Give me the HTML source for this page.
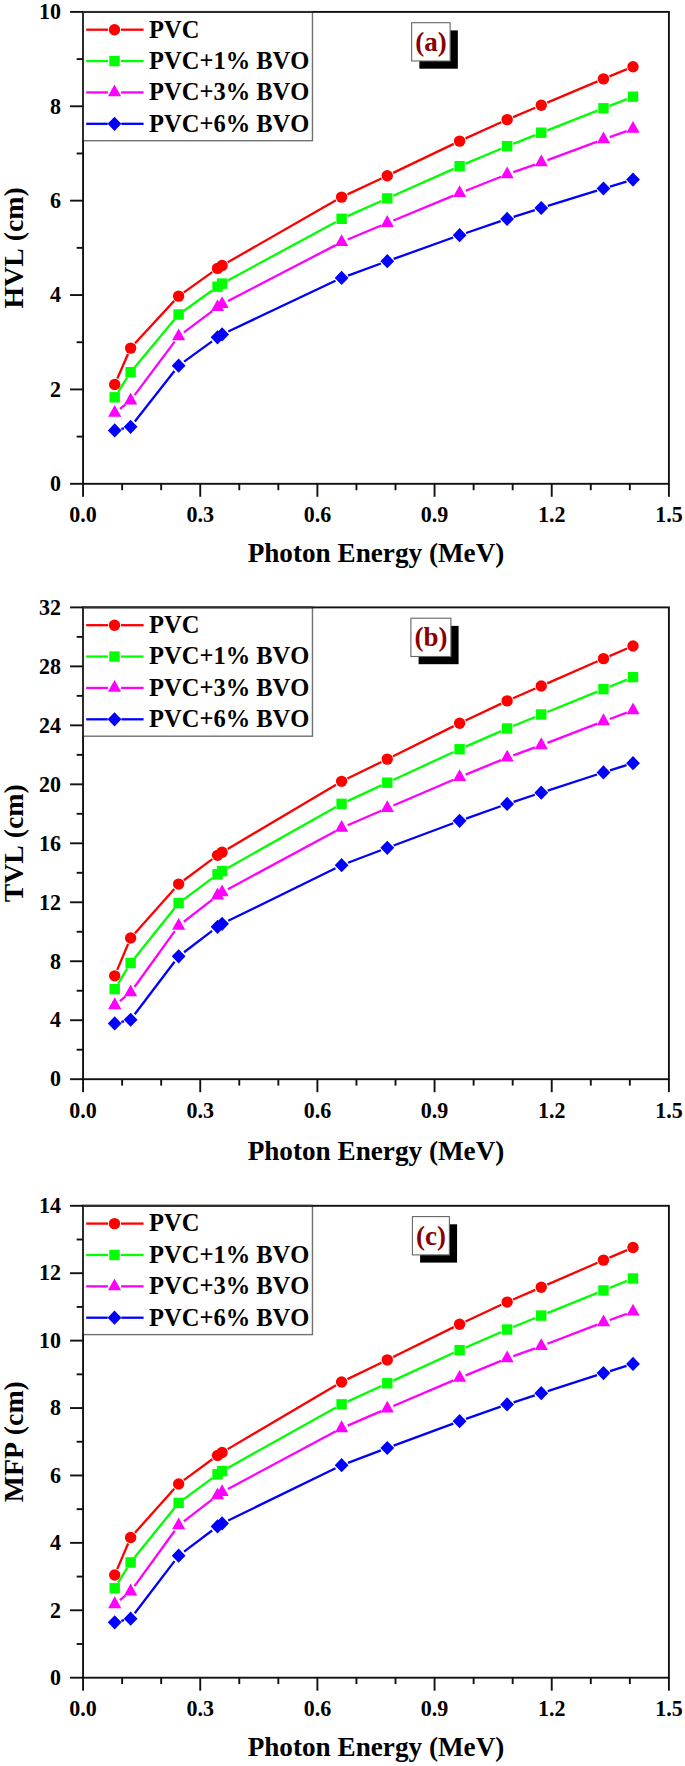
<!DOCTYPE html>
<html><head><meta charset="utf-8"><style>
html,body{margin:0;padding:0;background:#fff;}
body{width:685px;height:1766px;overflow:hidden;font-family:"Liberation Serif",serif;}
svg{display:block;}
text{font-kerning:none;font-feature-settings:"kern" 0;}
</style></head><body>
<svg width="685" height="1766" viewBox="0 0 685 1766">
<g stroke="#ff0000" stroke-width="2.3" stroke-linecap="butt"><line x1="117.30" y1="378.55" x2="128.02" y2="354.05"/><line x1="135.04" y1="343.32" x2="174.22" y2="300.88"/><line x1="183.92" y1="292.33" x2="212.24" y2="272.17"/><line x1="227.74" y1="262.27" x2="335.97" y2="200.33"/><line x1="347.50" y1="194.34" x2="381.38" y2="178.46"/><line x1="393.13" y1="172.90" x2="453.74" y2="143.90"/><line x1="465.52" y1="138.42" x2="501.21" y2="122.28"/><line x1="513.12" y1="117.07" x2="535.28" y2="107.73"/><line x1="547.25" y1="102.67" x2="597.49" y2="81.43"/><line x1="609.49" y1="76.42" x2="627.00" y2="69.18"/></g>
<circle cx="114.70" cy="384.50" r="5.70" fill="#ff0000"/><circle cx="130.63" cy="348.10" r="5.70" fill="#ff0000"/><circle cx="178.63" cy="296.10" r="5.70" fill="#ff0000"/><circle cx="217.53" cy="268.40" r="5.70" fill="#ff0000"/><circle cx="222.10" cy="265.50" r="5.70" fill="#ff0000"/><circle cx="341.61" cy="197.10" r="5.70" fill="#ff0000"/><circle cx="387.27" cy="175.70" r="5.70" fill="#ff0000"/><circle cx="459.60" cy="141.10" r="5.70" fill="#ff0000"/><circle cx="507.13" cy="119.60" r="5.70" fill="#ff0000"/><circle cx="541.26" cy="105.20" r="5.70" fill="#ff0000"/><circle cx="603.48" cy="78.90" r="5.70" fill="#ff0000"/><circle cx="633.01" cy="66.70" r="5.70" fill="#ff0000"/>
<g stroke="#00ff00" stroke-width="2.3" stroke-linecap="butt"><line x1="118.18" y1="391.81" x2="127.15" y2="377.69"/><line x1="134.79" y1="367.20" x2="174.47" y2="319.50"/><line x1="183.92" y1="310.72" x2="212.24" y2="290.48"/><line x1="227.81" y1="280.50" x2="335.90" y2="221.90"/><line x1="347.55" y1="216.15" x2="381.33" y2="201.05"/><line x1="393.21" y1="195.76" x2="453.66" y2="168.84"/><line x1="465.59" y1="163.68" x2="501.14" y2="148.72"/><line x1="513.17" y1="143.81" x2="535.22" y2="135.09"/><line x1="547.32" y1="130.33" x2="597.43" y2="110.67"/><line x1="609.53" y1="105.92" x2="626.96" y2="99.08"/></g>
<rect x="109.50" y="392.10" width="10.40" height="10.40" fill="#00ff00"/><rect x="125.43" y="367.00" width="10.40" height="10.40" fill="#00ff00"/><rect x="173.43" y="309.30" width="10.40" height="10.40" fill="#00ff00"/><rect x="212.33" y="281.50" width="10.40" height="10.40" fill="#00ff00"/><rect x="216.90" y="278.40" width="10.40" height="10.40" fill="#00ff00"/><rect x="336.41" y="213.60" width="10.40" height="10.40" fill="#00ff00"/><rect x="382.07" y="193.20" width="10.40" height="10.40" fill="#00ff00"/><rect x="454.40" y="161.00" width="10.40" height="10.40" fill="#00ff00"/><rect x="501.93" y="141.00" width="10.40" height="10.40" fill="#00ff00"/><rect x="536.06" y="127.50" width="10.40" height="10.40" fill="#00ff00"/><rect x="598.28" y="103.10" width="10.40" height="10.40" fill="#00ff00"/><rect x="627.81" y="91.50" width="10.40" height="10.40" fill="#00ff00"/>
<g stroke="#ff00ff" stroke-width="2.3" stroke-linecap="butt"><line x1="119.90" y1="408.81" x2="125.42" y2="404.52"/><line x1="134.59" y1="395.18" x2="174.67" y2="341.65"/><line x1="183.91" y1="332.40" x2="212.25" y2="311.13"/><line x1="227.96" y1="301.03" x2="335.75" y2="245.11"/><line x1="347.70" y1="239.52" x2="381.18" y2="225.51"/><line x1="393.37" y1="220.45" x2="453.50" y2="195.68"/><line x1="465.73" y1="190.73" x2="501.00" y2="176.71"/><line x1="513.36" y1="172.09" x2="535.03" y2="164.54"/><line x1="547.45" y1="160.07" x2="597.29" y2="141.56"/><line x1="609.71" y1="137.07" x2="626.78" y2="131.06"/></g>
<polygon points="114.70,405.00 121.30,416.80 108.10,416.80" fill="#ff00ff"/><polygon points="130.63,392.60 137.23,404.40 124.03,404.40" fill="#ff00ff"/><polygon points="178.63,328.50 185.23,340.30 172.03,340.30" fill="#ff00ff"/><polygon points="217.53,299.30 224.13,311.10 210.93,311.10" fill="#ff00ff"/><polygon points="222.10,296.20 228.70,308.00 215.50,308.00" fill="#ff00ff"/><polygon points="341.61,234.20 348.21,246.00 335.01,246.00" fill="#ff00ff"/><polygon points="387.27,215.10 393.87,226.90 380.67,226.90" fill="#ff00ff"/><polygon points="459.60,185.30 466.20,197.10 453.00,197.10" fill="#ff00ff"/><polygon points="507.13,166.40 513.73,178.20 500.53,178.20" fill="#ff00ff"/><polygon points="541.26,154.50 547.86,166.30 534.66,166.30" fill="#ff00ff"/><polygon points="603.48,131.40 610.08,143.20 596.88,143.20" fill="#ff00ff"/><polygon points="633.01,121.00 639.61,132.80 626.41,132.80" fill="#ff00ff"/>
<g stroke="#0000ff" stroke-width="2.3" stroke-linecap="butt"><line x1="121.33" y1="428.90" x2="124.00" y2="428.30"/><line x1="134.83" y1="421.45" x2="174.43" y2="371.05"/><line x1="184.12" y1="361.69" x2="212.04" y2="341.31"/><line x1="228.25" y1="331.49" x2="335.46" y2="280.81"/><line x1="348.00" y1="275.56" x2="380.88" y2="263.54"/><line x1="393.67" y1="258.90" x2="453.20" y2="237.50"/><line x1="466.03" y1="232.99" x2="500.70" y2="221.11"/><line x1="513.61" y1="216.83" x2="534.79" y2="210.07"/><line x1="547.75" y1="205.97" x2="596.99" y2="190.53"/><line x1="609.99" y1="186.54" x2="626.50" y2="181.56"/></g>
<polygon points="114.70,423.30 121.60,430.40 114.70,437.50 107.80,430.40" fill="#0000ff"/><polygon points="130.63,419.70 137.53,426.80 130.63,433.90 123.73,426.80" fill="#0000ff"/><polygon points="178.63,358.60 185.53,365.70 178.63,372.80 171.73,365.70" fill="#0000ff"/><polygon points="217.53,330.20 224.43,337.30 217.53,344.40 210.63,337.30" fill="#0000ff"/><polygon points="222.10,327.30 229.00,334.40 222.10,341.50 215.20,334.40" fill="#0000ff"/><polygon points="341.61,270.80 348.51,277.90 341.61,285.00 334.71,277.90" fill="#0000ff"/><polygon points="387.27,254.10 394.17,261.20 387.27,268.30 380.37,261.20" fill="#0000ff"/><polygon points="459.60,228.10 466.50,235.20 459.60,242.30 452.70,235.20" fill="#0000ff"/><polygon points="507.13,211.80 514.03,218.90 507.13,226.00 500.23,218.90" fill="#0000ff"/><polygon points="541.26,200.90 548.16,208.00 541.26,215.10 534.36,208.00" fill="#0000ff"/><polygon points="603.48,181.40 610.38,188.50 603.48,195.60 596.58,188.50" fill="#0000ff"/><polygon points="633.01,172.50 639.91,179.60 633.01,186.70 626.11,179.60" fill="#0000ff"/>
<rect x="83.06" y="11.90" width="229.4" height="128.8" fill="#fff" stroke="#707070" stroke-width="1.4"/>
<g stroke="#ff0000" stroke-width="2.3"><line x1="86.2" y1="29.70" x2="108.00" y2="29.70"/><line x1="121.00" y1="29.70" x2="143.6" y2="29.70"/></g>
<circle cx="114.50" cy="29.70" r="5.70" fill="#ff0000"/>
<text x="149.1" y="37.55" font-size="24.5" font-family="Liberation Serif" font-weight="bold">PVC</text>
<g stroke="#00ff00" stroke-width="2.3"><line x1="86.2" y1="61.07" x2="108.00" y2="61.07"/><line x1="121.00" y1="61.07" x2="143.6" y2="61.07"/></g>
<rect x="109.30" y="55.87" width="10.40" height="10.40" fill="#00ff00"/>
<text x="149.1" y="68.92" font-size="24.5" font-family="Liberation Serif" font-weight="bold">PVC+1% BVO</text>
<g stroke="#ff00ff" stroke-width="2.3"><line x1="86.2" y1="92.44" x2="107.90" y2="92.44"/><line x1="121.10" y1="92.44" x2="143.6" y2="92.44"/></g>
<polygon points="114.50,84.57 121.10,96.37 107.90,96.37" fill="#ff00ff"/>
<text x="149.1" y="100.29" font-size="24.5" font-family="Liberation Serif" font-weight="bold">PVC+3% BVO</text>
<g stroke="#0000ff" stroke-width="2.3"><line x1="86.2" y1="123.81" x2="107.70" y2="123.81"/><line x1="121.30" y1="123.81" x2="143.6" y2="123.81"/></g>
<polygon points="114.50,116.71 121.40,123.81 114.50,130.91 107.60,123.81" fill="#0000ff"/>
<text x="149.1" y="131.66" font-size="24.5" font-family="Liberation Serif" font-weight="bold">PVC+6% BVO</text>
<rect x="83.06" y="11.9" width="585.84" height="471.90" fill="none" stroke="#111" stroke-width="1.9"/>
<path d="M83.06 140.70V11.90H312.46" fill="none" stroke="#2e2e2e" stroke-width="1.9"/>
<g stroke="#111" stroke-width="1.9"><line x1="83.06" y1="483.80" x2="83.06" y2="496.80"/><line x1="122.12" y1="483.80" x2="122.12" y2="490.20"/><line x1="161.17" y1="483.80" x2="161.17" y2="490.20"/><line x1="200.23" y1="483.80" x2="200.23" y2="496.80"/><line x1="239.28" y1="483.80" x2="239.28" y2="490.20"/><line x1="278.34" y1="483.80" x2="278.34" y2="490.20"/><line x1="317.40" y1="483.80" x2="317.40" y2="496.80"/><line x1="356.45" y1="483.80" x2="356.45" y2="490.20"/><line x1="395.51" y1="483.80" x2="395.51" y2="490.20"/><line x1="434.56" y1="483.80" x2="434.56" y2="496.80"/><line x1="473.62" y1="483.80" x2="473.62" y2="490.20"/><line x1="512.68" y1="483.80" x2="512.68" y2="490.20"/><line x1="551.73" y1="483.80" x2="551.73" y2="496.80"/><line x1="590.79" y1="483.80" x2="590.79" y2="490.20"/><line x1="629.84" y1="483.80" x2="629.84" y2="490.20"/><line x1="668.90" y1="483.80" x2="668.90" y2="496.80"/><line x1="70.06" y1="483.80" x2="83.06" y2="483.80"/><line x1="76.66" y1="436.61" x2="83.06" y2="436.61"/><line x1="70.06" y1="389.42" x2="83.06" y2="389.42"/><line x1="76.66" y1="342.23" x2="83.06" y2="342.23"/><line x1="70.06" y1="295.04" x2="83.06" y2="295.04"/><line x1="76.66" y1="247.85" x2="83.06" y2="247.85"/><line x1="70.06" y1="200.66" x2="83.06" y2="200.66"/><line x1="76.66" y1="153.47" x2="83.06" y2="153.47"/><line x1="70.06" y1="106.28" x2="83.06" y2="106.28"/><line x1="76.66" y1="59.09" x2="83.06" y2="59.09"/><line x1="70.06" y1="11.90" x2="83.06" y2="11.90"/></g>
<g font-size="22" font-family="Liberation Serif" font-weight="bold"><text transform="translate(83.06 522.40) scale(1 1.06)" text-anchor="middle">0.0</text><text transform="translate(200.23 522.40) scale(1 1.06)" text-anchor="middle">0.3</text><text transform="translate(317.40 522.40) scale(1 1.06)" text-anchor="middle">0.6</text><text transform="translate(434.56 522.40) scale(1 1.06)" text-anchor="middle">0.9</text><text transform="translate(551.73 522.40) scale(1 1.06)" text-anchor="middle">1.2</text><text transform="translate(668.90 522.40) scale(1 1.06)" text-anchor="middle">1.5</text><text transform="translate(60.9 491.05) scale(1 1.06)" text-anchor="end">0</text><text transform="translate(60.9 396.67) scale(1 1.06)" text-anchor="end">2</text><text transform="translate(60.9 302.29) scale(1 1.06)" text-anchor="end">4</text><text transform="translate(60.9 207.91) scale(1 1.06)" text-anchor="end">6</text><text transform="translate(60.9 113.53) scale(1 1.06)" text-anchor="end">8</text><text transform="translate(60.9 19.15) scale(1 1.06)" text-anchor="end">10</text></g>
<text x="376" y="562.20" text-anchor="middle" font-size="27.2" font-family="Liberation Serif" font-weight="bold">Photon Energy (MeV)</text>
<text transform="translate(22.6 247.85) rotate(-90)" x="0" y="0" text-anchor="middle" font-size="27.8" font-family="Liberation Serif" font-weight="bold">HVL (cm)</text>
<rect x="419.36" y="30.40" width="38.48" height="38.3" fill="#000"/>
<rect x="411.66" y="22.70" width="38.48" height="38.3" fill="#fff" stroke="#666" stroke-width="1.1"/>
<text x="430.9" y="50.70" text-anchor="middle" font-size="27" fill="#880000" font-family="Liberation Serif" font-weight="bold">(a)</text>
<g stroke="#ff0000" stroke-width="2.3" stroke-linecap="butt"><line x1="117.22" y1="969.84" x2="128.10" y2="944.04"/><line x1="134.95" y1="933.19" x2="174.31" y2="888.94"/><line x1="183.86" y1="880.21" x2="212.30" y2="859.19"/><line x1="227.69" y1="849.00" x2="336.02" y2="784.65"/><line x1="347.46" y1="778.48" x2="381.42" y2="761.96"/><line x1="393.09" y1="756.23" x2="453.78" y2="726.10"/><line x1="465.48" y1="720.44" x2="501.25" y2="703.65"/><line x1="513.08" y1="698.28" x2="535.31" y2="688.55"/><line x1="547.22" y1="683.33" x2="597.53" y2="661.26"/><line x1="609.46" y1="656.09" x2="627.03" y2="648.55"/></g>
<circle cx="114.70" cy="975.83" r="5.70" fill="#ff0000"/><circle cx="130.63" cy="938.05" r="5.70" fill="#ff0000"/><circle cx="178.63" cy="884.08" r="5.70" fill="#ff0000"/><circle cx="217.53" cy="855.33" r="5.70" fill="#ff0000"/><circle cx="222.10" cy="852.32" r="5.70" fill="#ff0000"/><circle cx="341.61" cy="781.33" r="5.70" fill="#ff0000"/><circle cx="387.27" cy="759.12" r="5.70" fill="#ff0000"/><circle cx="459.60" cy="723.21" r="5.70" fill="#ff0000"/><circle cx="507.13" cy="700.89" r="5.70" fill="#ff0000"/><circle cx="541.26" cy="685.95" r="5.70" fill="#ff0000"/><circle cx="603.48" cy="658.65" r="5.70" fill="#ff0000"/><circle cx="633.01" cy="645.99" r="5.70" fill="#ff0000"/>
<g stroke="#00ff00" stroke-width="2.3" stroke-linecap="butt"><line x1="118.09" y1="983.57" x2="127.24" y2="968.61"/><line x1="134.70" y1="957.99" x2="174.56" y2="908.25"/><line x1="183.85" y1="899.30" x2="212.31" y2="878.19"/><line x1="227.76" y1="867.92" x2="335.95" y2="807.04"/><line x1="347.51" y1="801.12" x2="381.37" y2="785.41"/><line x1="393.17" y1="779.95" x2="453.70" y2="751.98"/><line x1="465.56" y1="746.66" x2="501.17" y2="731.10"/><line x1="513.14" y1="726.03" x2="535.25" y2="716.96"/><line x1="547.29" y1="712.04" x2="597.46" y2="691.61"/><line x1="609.50" y1="686.71" x2="626.99" y2="679.58"/></g>
<rect x="109.50" y="983.91" width="10.40" height="10.40" fill="#00ff00"/><rect x="125.43" y="957.86" width="10.40" height="10.40" fill="#00ff00"/><rect x="173.43" y="897.98" width="10.40" height="10.40" fill="#00ff00"/><rect x="212.33" y="869.12" width="10.40" height="10.40" fill="#00ff00"/><rect x="216.90" y="865.90" width="10.40" height="10.40" fill="#00ff00"/><rect x="336.41" y="798.65" width="10.40" height="10.40" fill="#00ff00"/><rect x="382.07" y="777.48" width="10.40" height="10.40" fill="#00ff00"/><rect x="454.40" y="744.06" width="10.40" height="10.40" fill="#00ff00"/><rect x="501.93" y="723.30" width="10.40" height="10.40" fill="#00ff00"/><rect x="536.06" y="709.29" width="10.40" height="10.40" fill="#00ff00"/><rect x="598.28" y="683.96" width="10.40" height="10.40" fill="#00ff00"/><rect x="627.81" y="671.92" width="10.40" height="10.40" fill="#00ff00"/>
<g stroke="#ff00ff" stroke-width="2.3" stroke-linecap="butt"><line x1="119.83" y1="1001.05" x2="125.50" y2="996.47"/><line x1="134.49" y1="986.97" x2="174.77" y2="931.15"/><line x1="183.84" y1="921.74" x2="212.32" y2="899.55"/><line x1="227.91" y1="889.14" x2="335.80" y2="831.05"/><line x1="347.66" y1="825.29" x2="381.21" y2="810.73"/><line x1="393.34" y1="805.50" x2="453.53" y2="779.77"/><line x1="465.70" y1="774.65" x2="501.03" y2="760.07"/><line x1="513.34" y1="755.31" x2="535.06" y2="747.45"/><line x1="547.42" y1="742.83" x2="597.32" y2="723.60"/><line x1="609.68" y1="718.96" x2="626.81" y2="712.70"/></g>
<polygon points="114.70,997.33 121.30,1009.13 108.10,1009.13" fill="#ff00ff"/><polygon points="130.63,984.46 137.23,996.26 124.03,996.26" fill="#ff00ff"/><polygon points="178.63,917.93 185.23,929.73 172.03,929.73" fill="#ff00ff"/><polygon points="217.53,887.62 224.13,899.42 210.93,899.42" fill="#ff00ff"/><polygon points="222.10,884.41 228.70,896.21 215.50,896.21" fill="#ff00ff"/><polygon points="341.61,820.06 348.21,831.86 335.01,831.86" fill="#ff00ff"/><polygon points="387.27,800.23 393.87,812.03 380.67,812.03" fill="#ff00ff"/><polygon points="459.60,769.30 466.20,781.10 453.00,781.10" fill="#ff00ff"/><polygon points="507.13,749.69 513.73,761.49 500.53,761.49" fill="#ff00ff"/><polygon points="541.26,737.34 547.86,749.14 534.66,749.14" fill="#ff00ff"/><polygon points="603.48,713.36 610.08,725.16 596.88,725.16" fill="#ff00ff"/><polygon points="633.01,702.57 639.61,714.37 626.41,714.37" fill="#ff00ff"/>
<g stroke="#0000ff" stroke-width="2.3" stroke-linecap="butt"><line x1="121.32" y1="1021.91" x2="124.01" y2="1021.28"/><line x1="134.73" y1="1014.31" x2="174.53" y2="961.74"/><line x1="184.05" y1="952.21" x2="212.11" y2="930.95"/><line x1="228.20" y1="920.83" x2="335.51" y2="868.18"/><line x1="347.97" y1="862.78" x2="380.91" y2="850.27"/><line x1="393.64" y1="845.48" x2="453.23" y2="823.25"/><line x1="466.01" y1="818.59" x2="500.72" y2="806.23"/><line x1="513.58" y1="801.81" x2="534.81" y2="794.78"/><line x1="547.73" y1="790.54" x2="597.01" y2="774.51"/><line x1="609.97" y1="770.37" x2="626.52" y2="765.20"/></g>
<polygon points="114.70,1016.37 121.60,1023.47 114.70,1030.57 107.80,1023.47" fill="#0000ff"/><polygon points="130.63,1012.63 137.53,1019.73 130.63,1026.83 123.73,1019.73" fill="#0000ff"/><polygon points="178.63,949.21 185.53,956.31 178.63,963.41 171.73,956.31" fill="#0000ff"/><polygon points="217.53,919.74 224.43,926.84 217.53,933.94 210.63,926.84" fill="#0000ff"/><polygon points="222.10,916.73 229.00,923.83 222.10,930.93 215.20,923.83" fill="#0000ff"/><polygon points="341.61,858.09 348.51,865.19 341.61,872.29 334.71,865.19" fill="#0000ff"/><polygon points="387.27,840.76 394.17,847.86 387.27,854.96 380.37,847.86" fill="#0000ff"/><polygon points="459.60,813.77 466.50,820.87 459.60,827.97 452.70,820.87" fill="#0000ff"/><polygon points="507.13,796.85 514.03,803.95 507.13,811.05 500.23,803.95" fill="#0000ff"/><polygon points="541.26,785.54 548.16,792.64 541.26,799.74 534.36,792.64" fill="#0000ff"/><polygon points="603.48,765.30 610.38,772.40 603.48,779.50 596.58,772.40" fill="#0000ff"/><polygon points="633.01,756.06 639.91,763.16 633.01,770.26 626.11,763.16" fill="#0000ff"/>
<rect x="83.06" y="607.40" width="229.4" height="128.8" fill="#fff" stroke="#707070" stroke-width="1.4"/>
<g stroke="#ff0000" stroke-width="2.3"><line x1="86.2" y1="625.20" x2="108.00" y2="625.20"/><line x1="121.00" y1="625.20" x2="143.6" y2="625.20"/></g>
<circle cx="114.50" cy="625.20" r="5.70" fill="#ff0000"/>
<text x="149.1" y="633.05" font-size="24.5" font-family="Liberation Serif" font-weight="bold">PVC</text>
<g stroke="#00ff00" stroke-width="2.3"><line x1="86.2" y1="656.57" x2="108.00" y2="656.57"/><line x1="121.00" y1="656.57" x2="143.6" y2="656.57"/></g>
<rect x="109.30" y="651.37" width="10.40" height="10.40" fill="#00ff00"/>
<text x="149.1" y="664.42" font-size="24.5" font-family="Liberation Serif" font-weight="bold">PVC+1% BVO</text>
<g stroke="#ff00ff" stroke-width="2.3"><line x1="86.2" y1="687.94" x2="107.90" y2="687.94"/><line x1="121.10" y1="687.94" x2="143.6" y2="687.94"/></g>
<polygon points="114.50,680.07 121.10,691.87 107.90,691.87" fill="#ff00ff"/>
<text x="149.1" y="695.79" font-size="24.5" font-family="Liberation Serif" font-weight="bold">PVC+3% BVO</text>
<g stroke="#0000ff" stroke-width="2.3"><line x1="86.2" y1="719.31" x2="107.70" y2="719.31"/><line x1="121.30" y1="719.31" x2="143.6" y2="719.31"/></g>
<polygon points="114.50,712.21 121.40,719.31 114.50,726.41 107.60,719.31" fill="#0000ff"/>
<text x="149.1" y="727.16" font-size="24.5" font-family="Liberation Serif" font-weight="bold">PVC+6% BVO</text>
<rect x="83.06" y="607.4" width="585.84" height="471.80" fill="none" stroke="#111" stroke-width="1.9"/>
<path d="M83.06 736.20V607.40H312.46" fill="none" stroke="#2e2e2e" stroke-width="1.9"/>
<g stroke="#111" stroke-width="1.9"><line x1="83.06" y1="1079.20" x2="83.06" y2="1092.20"/><line x1="122.12" y1="1079.20" x2="122.12" y2="1085.60"/><line x1="161.17" y1="1079.20" x2="161.17" y2="1085.60"/><line x1="200.23" y1="1079.20" x2="200.23" y2="1092.20"/><line x1="239.28" y1="1079.20" x2="239.28" y2="1085.60"/><line x1="278.34" y1="1079.20" x2="278.34" y2="1085.60"/><line x1="317.40" y1="1079.20" x2="317.40" y2="1092.20"/><line x1="356.45" y1="1079.20" x2="356.45" y2="1085.60"/><line x1="395.51" y1="1079.20" x2="395.51" y2="1085.60"/><line x1="434.56" y1="1079.20" x2="434.56" y2="1092.20"/><line x1="473.62" y1="1079.20" x2="473.62" y2="1085.60"/><line x1="512.68" y1="1079.20" x2="512.68" y2="1085.60"/><line x1="551.73" y1="1079.20" x2="551.73" y2="1092.20"/><line x1="590.79" y1="1079.20" x2="590.79" y2="1085.60"/><line x1="629.84" y1="1079.20" x2="629.84" y2="1085.60"/><line x1="668.90" y1="1079.20" x2="668.90" y2="1092.20"/><line x1="70.06" y1="1079.20" x2="83.06" y2="1079.20"/><line x1="76.66" y1="1049.71" x2="83.06" y2="1049.71"/><line x1="70.06" y1="1020.23" x2="83.06" y2="1020.23"/><line x1="76.66" y1="990.74" x2="83.06" y2="990.74"/><line x1="70.06" y1="961.25" x2="83.06" y2="961.25"/><line x1="76.66" y1="931.76" x2="83.06" y2="931.76"/><line x1="70.06" y1="902.28" x2="83.06" y2="902.28"/><line x1="76.66" y1="872.79" x2="83.06" y2="872.79"/><line x1="70.06" y1="843.30" x2="83.06" y2="843.30"/><line x1="76.66" y1="813.81" x2="83.06" y2="813.81"/><line x1="70.06" y1="784.33" x2="83.06" y2="784.33"/><line x1="76.66" y1="754.84" x2="83.06" y2="754.84"/><line x1="70.06" y1="725.35" x2="83.06" y2="725.35"/><line x1="76.66" y1="695.86" x2="83.06" y2="695.86"/><line x1="70.06" y1="666.38" x2="83.06" y2="666.38"/><line x1="76.66" y1="636.89" x2="83.06" y2="636.89"/><line x1="70.06" y1="607.40" x2="83.06" y2="607.40"/></g>
<g font-size="22" font-family="Liberation Serif" font-weight="bold"><text transform="translate(83.06 1117.80) scale(1 1.06)" text-anchor="middle">0.0</text><text transform="translate(200.23 1117.80) scale(1 1.06)" text-anchor="middle">0.3</text><text transform="translate(317.40 1117.80) scale(1 1.06)" text-anchor="middle">0.6</text><text transform="translate(434.56 1117.80) scale(1 1.06)" text-anchor="middle">0.9</text><text transform="translate(551.73 1117.80) scale(1 1.06)" text-anchor="middle">1.2</text><text transform="translate(668.90 1117.80) scale(1 1.06)" text-anchor="middle">1.5</text><text transform="translate(60.9 1086.45) scale(1 1.06)" text-anchor="end">0</text><text transform="translate(60.9 1027.47) scale(1 1.06)" text-anchor="end">4</text><text transform="translate(60.9 968.50) scale(1 1.06)" text-anchor="end">8</text><text transform="translate(60.9 909.53) scale(1 1.06)" text-anchor="end">12</text><text transform="translate(60.9 850.55) scale(1 1.06)" text-anchor="end">16</text><text transform="translate(60.9 791.58) scale(1 1.06)" text-anchor="end">20</text><text transform="translate(60.9 732.60) scale(1 1.06)" text-anchor="end">24</text><text transform="translate(60.9 673.62) scale(1 1.06)" text-anchor="end">28</text><text transform="translate(60.9 614.65) scale(1 1.06)" text-anchor="end">32</text></g>
<text x="376" y="1159.60" text-anchor="middle" font-size="27.2" font-family="Liberation Serif" font-weight="bold">Photon Energy (MeV)</text>
<text transform="translate(22.6 843.30) rotate(-90)" x="0" y="0" text-anchor="middle" font-size="27.8" font-family="Liberation Serif" font-weight="bold">TVL (cm)</text>
<rect x="418.60" y="625.90" width="39.99" height="38.3" fill="#000"/>
<rect x="410.90" y="618.20" width="39.99" height="38.3" fill="#fff" stroke="#666" stroke-width="1.1"/>
<text x="430.9" y="646.20" text-anchor="middle" font-size="27" fill="#880000" font-family="Liberation Serif" font-weight="bold">(b)</text>
<g stroke="#ff0000" stroke-width="2.3" stroke-linecap="butt"><line x1="117.24" y1="1569.08" x2="128.09" y2="1543.54"/><line x1="134.97" y1="1532.71" x2="174.29" y2="1488.81"/><line x1="183.87" y1="1480.12" x2="212.29" y2="1459.27"/><line x1="227.70" y1="1449.13" x2="336.01" y2="1385.25"/><line x1="347.46" y1="1379.12" x2="381.41" y2="1362.72"/><line x1="393.10" y1="1357.02" x2="453.77" y2="1327.11"/><line x1="465.49" y1="1321.49" x2="501.24" y2="1304.83"/><line x1="513.09" y1="1299.49" x2="535.30" y2="1289.84"/><line x1="547.22" y1="1284.65" x2="597.52" y2="1262.74"/><line x1="609.46" y1="1257.60" x2="627.03" y2="1250.12"/></g>
<circle cx="114.70" cy="1575.06" r="5.70" fill="#ff0000"/><circle cx="130.63" cy="1537.55" r="5.70" fill="#ff0000"/><circle cx="178.63" cy="1483.97" r="5.70" fill="#ff0000"/><circle cx="217.53" cy="1455.42" r="5.70" fill="#ff0000"/><circle cx="222.10" cy="1452.43" r="5.70" fill="#ff0000"/><circle cx="341.61" cy="1381.95" r="5.70" fill="#ff0000"/><circle cx="387.27" cy="1359.89" r="5.70" fill="#ff0000"/><circle cx="459.60" cy="1324.24" r="5.70" fill="#ff0000"/><circle cx="507.13" cy="1302.08" r="5.70" fill="#ff0000"/><circle cx="541.26" cy="1287.24" r="5.70" fill="#ff0000"/><circle cx="603.48" cy="1260.14" r="5.70" fill="#ff0000"/><circle cx="633.01" cy="1247.57" r="5.70" fill="#ff0000"/>
<g stroke="#00ff00" stroke-width="2.3" stroke-linecap="butt"><line x1="118.10" y1="1582.72" x2="127.22" y2="1567.92"/><line x1="134.71" y1="1557.33" x2="174.55" y2="1507.99"/><line x1="183.86" y1="1499.07" x2="212.30" y2="1478.13"/><line x1="227.77" y1="1467.91" x2="335.94" y2="1407.48"/><line x1="347.51" y1="1401.59" x2="381.36" y2="1386.01"/><line x1="393.18" y1="1380.58" x2="453.69" y2="1352.82"/><line x1="465.56" y1="1347.52" x2="501.17" y2="1332.08"/><line x1="513.15" y1="1327.04" x2="535.25" y2="1318.04"/><line x1="547.29" y1="1313.15" x2="597.45" y2="1292.87"/><line x1="609.51" y1="1288.00" x2="626.98" y2="1280.92"/></g>
<rect x="109.50" y="1583.05" width="10.40" height="10.40" fill="#00ff00"/><rect x="125.43" y="1557.19" width="10.40" height="10.40" fill="#00ff00"/><rect x="173.43" y="1497.73" width="10.40" height="10.40" fill="#00ff00"/><rect x="212.33" y="1469.08" width="10.40" height="10.40" fill="#00ff00"/><rect x="216.90" y="1465.89" width="10.40" height="10.40" fill="#00ff00"/><rect x="336.41" y="1399.11" width="10.40" height="10.40" fill="#00ff00"/><rect x="382.07" y="1378.09" width="10.40" height="10.40" fill="#00ff00"/><rect x="454.40" y="1344.91" width="10.40" height="10.40" fill="#00ff00"/><rect x="501.93" y="1324.30" width="10.40" height="10.40" fill="#00ff00"/><rect x="536.06" y="1310.38" width="10.40" height="10.40" fill="#00ff00"/><rect x="598.28" y="1285.24" width="10.40" height="10.40" fill="#00ff00"/><rect x="627.81" y="1273.29" width="10.40" height="10.40" fill="#00ff00"/>
<g stroke="#ff00ff" stroke-width="2.3" stroke-linecap="butt"><line x1="119.84" y1="1600.11" x2="125.48" y2="1595.59"/><line x1="134.51" y1="1586.12" x2="174.75" y2="1530.74"/><line x1="183.85" y1="1521.36" x2="212.31" y2="1499.35"/><line x1="227.92" y1="1489.00" x2="335.79" y2="1431.34"/><line x1="347.67" y1="1425.61" x2="381.21" y2="1411.16"/><line x1="393.34" y1="1405.96" x2="453.52" y2="1380.41"/><line x1="465.71" y1="1375.33" x2="501.02" y2="1360.86"/><line x1="513.34" y1="1356.13" x2="535.05" y2="1348.33"/><line x1="547.43" y1="1343.74" x2="597.32" y2="1324.65"/><line x1="609.69" y1="1320.04" x2="626.80" y2="1313.83"/></g>
<polygon points="114.70,1596.37 121.30,1608.17 108.10,1608.17" fill="#ff00ff"/><polygon points="130.63,1583.59 137.23,1595.39 124.03,1595.39" fill="#ff00ff"/><polygon points="178.63,1517.53 185.23,1529.33 172.03,1529.33" fill="#ff00ff"/><polygon points="217.53,1487.44 224.13,1499.24 210.93,1499.24" fill="#ff00ff"/><polygon points="222.10,1484.25 228.70,1496.05 215.50,1496.05" fill="#ff00ff"/><polygon points="341.61,1420.36 348.21,1432.16 335.01,1432.16" fill="#ff00ff"/><polygon points="387.27,1400.68 393.87,1412.48 380.67,1412.48" fill="#ff00ff"/><polygon points="459.60,1369.97 466.20,1381.77 453.00,1381.77" fill="#ff00ff"/><polygon points="507.13,1350.49 513.73,1362.29 500.53,1362.29" fill="#ff00ff"/><polygon points="541.26,1338.23 547.86,1350.03 534.66,1350.03" fill="#ff00ff"/><polygon points="603.48,1314.42 610.08,1326.22 596.88,1326.22" fill="#ff00ff"/><polygon points="633.01,1303.71 639.61,1315.51 626.41,1315.51" fill="#ff00ff"/>
<g stroke="#0000ff" stroke-width="2.3" stroke-linecap="butt"><line x1="121.32" y1="1620.82" x2="124.01" y2="1620.19"/><line x1="134.75" y1="1613.24" x2="174.51" y2="1561.10"/><line x1="184.06" y1="1551.60" x2="212.10" y2="1530.51"/><line x1="228.21" y1="1520.46" x2="335.50" y2="1468.19"/><line x1="347.97" y1="1462.81" x2="380.90" y2="1450.40"/><line x1="393.64" y1="1445.64" x2="453.22" y2="1423.57"/><line x1="466.01" y1="1418.94" x2="500.72" y2="1406.68"/><line x1="513.59" y1="1402.29" x2="534.81" y2="1395.31"/><line x1="547.74" y1="1391.09" x2="597.01" y2="1375.18"/><line x1="609.98" y1="1371.07" x2="626.51" y2="1365.93"/></g>
<polygon points="114.70,1615.26 121.60,1622.36 114.70,1629.46 107.80,1622.36" fill="#0000ff"/><polygon points="130.63,1611.55 137.53,1618.65 130.63,1625.75 123.73,1618.65" fill="#0000ff"/><polygon points="178.63,1548.59 185.53,1555.69 178.63,1562.79 171.73,1555.69" fill="#0000ff"/><polygon points="217.53,1519.32 224.43,1526.42 217.53,1533.52 210.63,1526.42" fill="#0000ff"/><polygon points="222.10,1516.33 229.00,1523.43 222.10,1530.53 215.20,1523.43" fill="#0000ff"/><polygon points="341.61,1458.11 348.51,1465.21 341.61,1472.31 334.71,1465.21" fill="#0000ff"/><polygon points="387.27,1440.90 394.17,1448.00 387.27,1455.10 380.37,1448.00" fill="#0000ff"/><polygon points="459.60,1414.11 466.50,1421.21 459.60,1428.31 452.70,1421.21" fill="#0000ff"/><polygon points="507.13,1397.31 514.03,1404.41 507.13,1411.51 500.23,1404.41" fill="#0000ff"/><polygon points="541.26,1386.08 548.16,1393.18 541.26,1400.28 534.36,1393.18" fill="#0000ff"/><polygon points="603.48,1365.99 610.38,1373.09 603.48,1380.19 596.58,1373.09" fill="#0000ff"/><polygon points="633.01,1356.81 639.91,1363.91 633.01,1371.01 626.11,1363.91" fill="#0000ff"/>
<rect x="83.06" y="1205.80" width="229.4" height="128.8" fill="#fff" stroke="#707070" stroke-width="1.4"/>
<g stroke="#ff0000" stroke-width="2.3"><line x1="86.2" y1="1223.60" x2="108.00" y2="1223.60"/><line x1="121.00" y1="1223.60" x2="143.6" y2="1223.60"/></g>
<circle cx="114.50" cy="1223.60" r="5.70" fill="#ff0000"/>
<text x="149.1" y="1231.45" font-size="24.5" font-family="Liberation Serif" font-weight="bold">PVC</text>
<g stroke="#00ff00" stroke-width="2.3"><line x1="86.2" y1="1254.97" x2="108.00" y2="1254.97"/><line x1="121.00" y1="1254.97" x2="143.6" y2="1254.97"/></g>
<rect x="109.30" y="1249.77" width="10.40" height="10.40" fill="#00ff00"/>
<text x="149.1" y="1262.82" font-size="24.5" font-family="Liberation Serif" font-weight="bold">PVC+1% BVO</text>
<g stroke="#ff00ff" stroke-width="2.3"><line x1="86.2" y1="1286.34" x2="107.90" y2="1286.34"/><line x1="121.10" y1="1286.34" x2="143.6" y2="1286.34"/></g>
<polygon points="114.50,1278.47 121.10,1290.27 107.90,1290.27" fill="#ff00ff"/>
<text x="149.1" y="1294.19" font-size="24.5" font-family="Liberation Serif" font-weight="bold">PVC+3% BVO</text>
<g stroke="#0000ff" stroke-width="2.3"><line x1="86.2" y1="1317.71" x2="107.70" y2="1317.71"/><line x1="121.30" y1="1317.71" x2="143.6" y2="1317.71"/></g>
<polygon points="114.50,1310.61 121.40,1317.71 114.50,1324.81 107.60,1317.71" fill="#0000ff"/>
<text x="149.1" y="1325.56" font-size="24.5" font-family="Liberation Serif" font-weight="bold">PVC+6% BVO</text>
<rect x="83.06" y="1205.8" width="585.84" height="471.90" fill="none" stroke="#111" stroke-width="1.9"/>
<path d="M83.06 1334.60V1205.80H312.46" fill="none" stroke="#2e2e2e" stroke-width="1.9"/>
<g stroke="#111" stroke-width="1.9"><line x1="83.06" y1="1677.70" x2="83.06" y2="1690.70"/><line x1="122.12" y1="1677.70" x2="122.12" y2="1684.10"/><line x1="161.17" y1="1677.70" x2="161.17" y2="1684.10"/><line x1="200.23" y1="1677.70" x2="200.23" y2="1690.70"/><line x1="239.28" y1="1677.70" x2="239.28" y2="1684.10"/><line x1="278.34" y1="1677.70" x2="278.34" y2="1684.10"/><line x1="317.40" y1="1677.70" x2="317.40" y2="1690.70"/><line x1="356.45" y1="1677.70" x2="356.45" y2="1684.10"/><line x1="395.51" y1="1677.70" x2="395.51" y2="1684.10"/><line x1="434.56" y1="1677.70" x2="434.56" y2="1690.70"/><line x1="473.62" y1="1677.70" x2="473.62" y2="1684.10"/><line x1="512.68" y1="1677.70" x2="512.68" y2="1684.10"/><line x1="551.73" y1="1677.70" x2="551.73" y2="1690.70"/><line x1="590.79" y1="1677.70" x2="590.79" y2="1684.10"/><line x1="629.84" y1="1677.70" x2="629.84" y2="1684.10"/><line x1="668.90" y1="1677.70" x2="668.90" y2="1690.70"/><line x1="70.06" y1="1677.70" x2="83.06" y2="1677.70"/><line x1="76.66" y1="1643.99" x2="83.06" y2="1643.99"/><line x1="70.06" y1="1610.29" x2="83.06" y2="1610.29"/><line x1="76.66" y1="1576.58" x2="83.06" y2="1576.58"/><line x1="70.06" y1="1542.87" x2="83.06" y2="1542.87"/><line x1="76.66" y1="1509.16" x2="83.06" y2="1509.16"/><line x1="70.06" y1="1475.46" x2="83.06" y2="1475.46"/><line x1="76.66" y1="1441.75" x2="83.06" y2="1441.75"/><line x1="70.06" y1="1408.04" x2="83.06" y2="1408.04"/><line x1="76.66" y1="1374.34" x2="83.06" y2="1374.34"/><line x1="70.06" y1="1340.63" x2="83.06" y2="1340.63"/><line x1="76.66" y1="1306.92" x2="83.06" y2="1306.92"/><line x1="70.06" y1="1273.21" x2="83.06" y2="1273.21"/><line x1="76.66" y1="1239.51" x2="83.06" y2="1239.51"/><line x1="70.06" y1="1205.80" x2="83.06" y2="1205.80"/></g>
<g font-size="22" font-family="Liberation Serif" font-weight="bold"><text transform="translate(83.06 1716.30) scale(1 1.06)" text-anchor="middle">0.0</text><text transform="translate(200.23 1716.30) scale(1 1.06)" text-anchor="middle">0.3</text><text transform="translate(317.40 1716.30) scale(1 1.06)" text-anchor="middle">0.6</text><text transform="translate(434.56 1716.30) scale(1 1.06)" text-anchor="middle">0.9</text><text transform="translate(551.73 1716.30) scale(1 1.06)" text-anchor="middle">1.2</text><text transform="translate(668.90 1716.30) scale(1 1.06)" text-anchor="middle">1.5</text><text transform="translate(60.9 1684.95) scale(1 1.06)" text-anchor="end">0</text><text transform="translate(60.9 1617.54) scale(1 1.06)" text-anchor="end">2</text><text transform="translate(60.9 1550.12) scale(1 1.06)" text-anchor="end">4</text><text transform="translate(60.9 1482.71) scale(1 1.06)" text-anchor="end">6</text><text transform="translate(60.9 1415.29) scale(1 1.06)" text-anchor="end">8</text><text transform="translate(60.9 1347.88) scale(1 1.06)" text-anchor="end">10</text><text transform="translate(60.9 1280.46) scale(1 1.06)" text-anchor="end">12</text><text transform="translate(60.9 1213.05) scale(1 1.06)" text-anchor="end">14</text></g>
<text x="376" y="1756.20" text-anchor="middle" font-size="27.2" font-family="Liberation Serif" font-weight="bold">Photon Energy (MeV)</text>
<text transform="translate(22.6 1441.75) rotate(-90)" x="0" y="0" text-anchor="middle" font-size="27.8" font-family="Liberation Serif" font-weight="bold">MFP (cm)</text>
<rect x="420.11" y="1224.30" width="36.97" height="38.3" fill="#000"/>
<rect x="412.41" y="1216.60" width="36.97" height="38.3" fill="#fff" stroke="#666" stroke-width="1.1"/>
<text x="430.9" y="1244.60" text-anchor="middle" font-size="27" fill="#880000" font-family="Liberation Serif" font-weight="bold">(c)</text>
</svg>
</body></html>
